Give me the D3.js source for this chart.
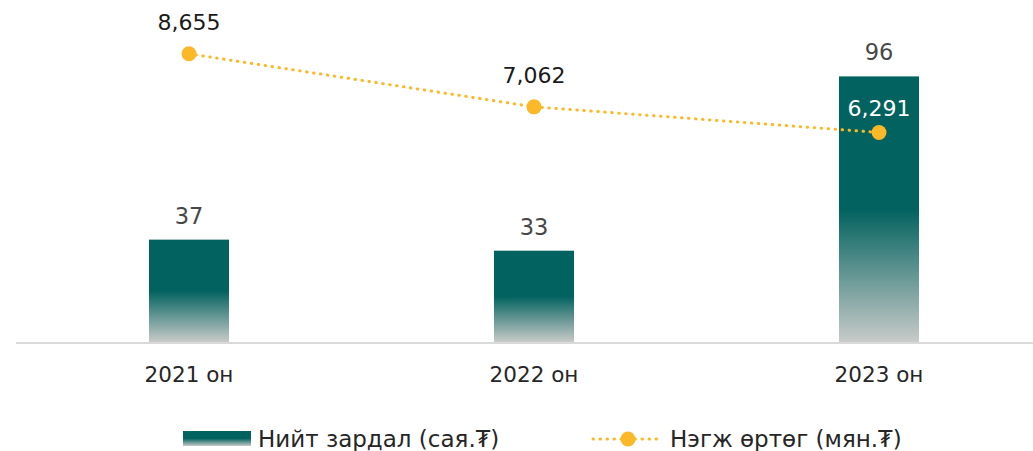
<!DOCTYPE html>
<html>
<head>
<meta charset="utf-8">
<script src="https://cdn.jsdelivr.net/npm/d3@7"></script>
<style>
  body { margin: 0; background: #ffffff; }
  text { font-family: "DejaVu Sans", sans-serif; }
</style>
</head>
<body>
<div id="chart"></div>
<script>
// Data
const categories = ["2021 он", "2022 он", "2023 он"];
const totalCost = [37, 33, 96];          // Нийт зардал (сая.₮)
const unitCost = [8655, 7062, 6291];     // Нэгж өртөг (мян.₮)
const legendLabels = ["Нийт зардал (сая.₮)", "Нэгж өртөг (мян.₮)"];

const w = 1033;
const h = 451;
const baseY = 342;
const barColor = "#02625f";
const lineColor = "#fbb829";

const svg = d3.select("#chart")
    .append("svg")
    .attr("width", w)
    .attr("height", h);

// Gradient for bars (solid on top, fading to grey at the bottom)
const defs = svg.append("defs");
function addGrad(id, solidTo) {
    const g = defs.append("linearGradient")
        .attr("id", id)
        .attr("x1", 0).attr("y1", 0)
        .attr("x2", 0).attr("y2", 1);
    g.append("stop").attr("offset", "0%").attr("stop-color", barColor);
    g.append("stop").attr("offset", solidTo).attr("stop-color", barColor);
    g.append("stop").attr("offset", "100%").attr("stop-color", "#c8cbc9");
}
addGrad("barGrad", "50%");
addGrad("legGrad", "50%");

// Scales
const xScale = d3.scaleBand()
    .domain(categories)
    .range([16.5, 1051.5])
    .paddingInner(0.768)
    .paddingOuter(0.384);

const yBar = d3.scaleLinear()
    .domain([0, 120])
    .range([baseY, 10]);

const yLine = d3.scaleLinear()
    .domain([0, 10000])
    .range([baseY, 9]);

const cx = d => xScale(d) + xScale.bandwidth() / 2;

// Bars
svg.append("g")
    .selectAll("rect")
    .data(totalCost)
    .enter()
    .append("rect")
        .attr("x", (d, i) => xScale(categories[i]))
        .attr("y", d => yBar(d))
        .attr("width", xScale.bandwidth())
        .attr("height", d => baseY - yBar(d))
        .attr("fill", "url(#barGrad)");

// Bar labels
svg.append("g")
    .selectAll("text")
    .data(totalCost)
    .enter()
    .append("text")
        .attr("x", (d, i) => cx(categories[i]))
        .attr("y", d => yBar(d) - 16)
        .attr("text-anchor", "middle")
        .attr("font-size", 22.5)
        .attr("fill", "#474747")
        .text(d => d);

// X axis line
svg.append("line")
    .attr("x1", 16).attr("x2", w)
    .attr("y1", baseY + 1).attr("y2", baseY + 1)
    .attr("stroke", "#d9d9d9")
    .attr("stroke-width", 2);

// Category labels
svg.append("g")
    .selectAll("text")
    .data(categories)
    .enter()
    .append("text")
        .attr("x", d => cx(d))
        .attr("y", 382)
        .attr("text-anchor", "middle")
        .attr("font-size", 21.5)
        .attr("fill", "#262626")
        .text(d => d);

// Line (dotted)
const line = d3.line()
    .x((d, i) => cx(categories[i]))
    .y(d => yLine(d));

svg.append("path")
    .datum(unitCost)
    .attr("d", line)
    .attr("fill", "none")
    .attr("stroke", lineColor)
    .attr("stroke-width", 3)
    .attr("stroke-linecap", "round")
    .attr("stroke-dasharray", "0.5,6.5");

svg.append("g")
    .selectAll("circle")
    .data(unitCost)
    .enter()
    .append("circle")
        .attr("cx", (d, i) => cx(categories[i]))
        .attr("cy", d => yLine(d))
        .attr("r", 7.5)
        .attr("fill", lineColor);

// last label sits inside the bar, a bit closer to its point
svg.append("g")
    .selectAll("text")
    .data(unitCost)
    .enter()
    .append("text")
        .attr("x", (d, i) => cx(categories[i]))
        .attr("y", (d, i) => yLine(d) - (i === 2 ? 17 : 24))
        .attr("text-anchor", "middle")
        .attr("font-size", 22)
        .attr("fill", (d, i) => i === 2 ? "#ffffff" : "#1a1a1a")
        .text(d => d3.format(",")(d));

// Legend
const leg = svg.append("g");

leg.append("rect")
    .attr("x", 183).attr("y", 431)
    .attr("width", 68).attr("height", 15)
    .attr("fill", "url(#legGrad)");

leg.append("text")
    .attr("x", 258).attr("y", 447)
    .attr("font-size", 23)
    .attr("fill", "#262626")
    .text(legendLabels[0]);

leg.append("line")
    .attr("x1", 593).attr("x2", 658)
    .attr("y1", 439).attr("y2", 439)
    .attr("stroke", lineColor)
    .attr("stroke-width", 3)
    .attr("stroke-linecap", "round")
    .attr("stroke-dasharray", "0.5,6.5");

leg.append("circle")
    .attr("cx", 628).attr("cy", 439)
    .attr("r", 7.5)
    .attr("fill", lineColor);

leg.append("text")
    .attr("x", 670).attr("y", 447)
    .attr("font-size", 23)
    .attr("fill", "#262626")
    .text(legendLabels[1]);
</script>
</body>
</html>
